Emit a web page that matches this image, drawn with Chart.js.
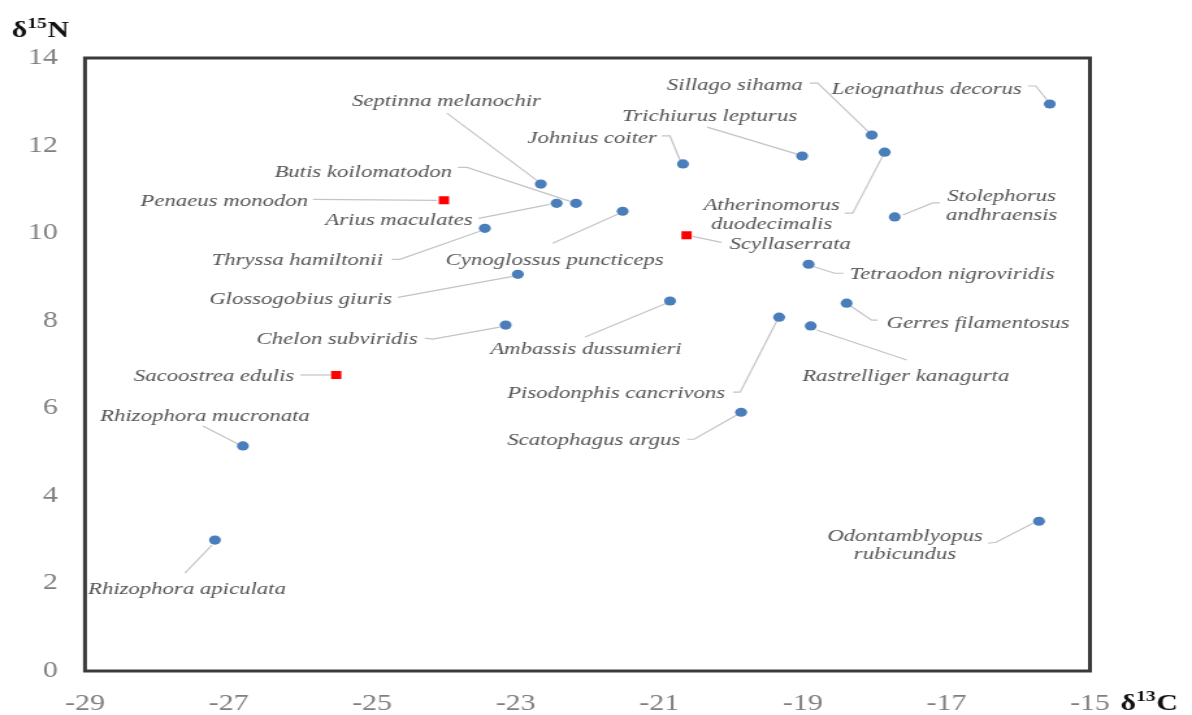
<!DOCTYPE html>
<html>
<head>
<meta charset="utf-8">
<script src="https://cdn.jsdelivr.net/npm/chart.js@4/dist/chart.umd.min.js"></script>
<style>
  html, body { margin: 0; padding: 0; background: #fff; overflow: hidden; }
  #chart { display: block; width: 1192px !important; height: 715px !important; }
</style>
</head>
<body>
<!-- drawn narrow, then stretched sideways like the original figure -->
<canvas id="chart" width="917" height="715" style="width:1192px;height:715px"></canvas>
<script>
// fish and mangrove sources (blue dots)
const speciesNames = [
  'Leiognathus decorus', 'Sillago sihama', 'Atherinomorus duodecimalis', 'Trichiurus lepturus',
  'Johnius coiter', 'Septinna melanochir', 'Arius maculates', 'Butis koilomatodon',
  'Cynoglossus puncticeps', 'Thryssa hamiltonii', 'Stolephorus andhraensis', 'Tetraodon nigroviridis',
  'Glossogobius giuris', 'Ambassis dussumieri', 'Gerres filamentosus', 'Pisodonphis cancrivons',
  'Chelon subviridis', 'Rastrelliger kanagurta', 'Scatophagus argus', 'Rhizophora mucronata',
  'Rhizophora apiculata', 'Odontamblyopus rubicundus'
];
const speciesC = [-15.56, -18.04, -17.86, -19.01, -20.67, -22.65, -22.43, -22.16, -21.51, -23.43, -17.72,
  -18.92, -22.97, -20.85, -18.39, -19.33, -23.14, -18.89, -19.86, -26.80, -27.19, -15.71];
const speciesN = [12.95, 12.24, 11.85, 11.76, 11.58, 11.12, 10.68, 10.68, 10.50, 10.11, 10.37,
  9.29, 9.06, 8.45, 8.40, 8.08, 7.90, 7.88, 5.91, 5.14, 2.99, 3.42];

// shrimp, crab, oyster (red squares)
const shellNames = ['Penaeus monodon', 'Scyllaserrata', 'Sacoostrea edulis'];
const shellC = [-24.0, -20.62, -25.50];
const shellN = [10.75, 9.95, 6.76];

const xTicks = [-29, -27, -25, -23, -21, -19, -17, -15];
const yTicks = [0, 2, 4, 6, 8, 10, 12, 14];

// label placement: offsets in screen px from the point
const labelLayout = {
  'Leiognathus decorus': { align: 'right', dx: -28, dy: -16, leader: [[-22, -18], [-14, -18], [-2, -3]] },
  'Sillago sihama': { align: 'right', dx: -69, dy: -51, leader: [[-62, -52], [-54, -52], [-3, -3]] },
  'Atherinomorus duodecimalis': { align: 'center', dx: -113, dy: 62, lines: ['Atherinomorus', 'duodecimalis'], leader: [[-40, 61], [-32, 61], [-2, 4]] },
  'Trichiurus lepturus': { align: 'right', dx: -5, dy: -41, leader: [[-95, -29], [-5, -2]] },
  'Johnius coiter': { align: 'right', dx: -26, dy: -27, leader: [[-21, -28], [-13, -28], [-3, -4]] },
  'Septinna melanochir': { align: 'right', dx: 0, dy: -84, leader: [[-94, -71], [-3, -3]] },
  'Arius maculates': { align: 'right', dx: -84, dy: 16, leader: [[-78, 15], [-7, 1]] },
  'Butis koilomatodon': { align: 'right', dx: -124, dy: -32, leader: [[-118, -36], [-109, -36], [-6, -2]] },
  'Cynoglossus puncticeps': { align: 'center', dx: -68, dy: 48, leader: [[-70, 32], [-5, 3]] },
  'Thryssa hamiltonii': { align: 'right', dx: -102, dy: 31, leader: [[-93, 31], [-85, 31], [-5, 3]] },
  'Stolephorus andhraensis': { align: 'center', dx: 107, dy: -12, lines: ['Stolephorus', 'andhraensis'], leader: [[45, -14], [38, -14], [8, -2]] },
  'Tetraodon nigroviridis': { align: 'left', dx: 41, dy: 9, leader: [[35, 9], [26, 9], [4, 2]] },
  'Glossogobius giuris': { align: 'right', dx: -126, dy: 24, leader: [[-120, 23], [-5, 2]] },
  'Ambassis dussumieri': { align: 'center', dx: -84, dy: 47, leader: [[-85, 36], [-3, 2]] },
  'Gerres filamentosus': { align: 'left', dx: 40, dy: 19, leader: [[31, 17], [25, 17], [3, 2]] },
  'Pisodonphis cancrivons': { align: 'right', dx: -54, dy: 75, leader: [[-46, 75], [-39, 75], [-2, 3]] },
  'Chelon subviridis': { align: 'right', dx: -88, dy: 13, leader: [[-81, 13], [-73, 14], [-6, 2]] },
  'Rastrelliger kanagurta': { align: 'center', dx: 95, dy: 49, leader: [[96, 34], [6, 4]] },
  'Scatophagus argus': { align: 'right', dx: -61, dy: 27, leader: [[-54, 27], [-47, 27], [-3, 2]] },
  'Rhizophora mucronata': { align: 'center', dx: -38, dy: -31, leader: [[-40, -20], [-5, -2]] },
  'Rhizophora apiculata': { align: 'center', dx: -28, dy: 48, leader: [[-30, 33], [-3, 5]] },
  'Odontamblyopus rubicundus': { align: 'center', dx: -134, dy: 23, lines: ['Odontamblyopus', 'rubicundus'], leader: [[-51, 22], [-43, 21], [-6, 2]] },
  'Penaeus monodon': { align: 'right', dx: -136, dy: 0, leader: [[-131, -1], [-7, 0]] },
  'Scyllaserrata': { align: 'left', dx: 43, dy: 8, leader: [[35, 7], [6, 1]] },
  'Sacoostrea edulis': { align: 'right', dx: -42, dy: 0, leader: [[-36, 0], [-5, 0]] }
};

const S = 1192 / 917; // horizontal stretch of the canvas

function toPoints(xs, ys) {
  return xs.map((x, i) => ({ x: x, y: ys[i] }));
}

// frame, leader lines and species names
const labelPlugin = {
  id: 'speciesLabels',
  beforeDatasetsDraw(chart) {
    const ctx = chart.ctx;
    const a = chart.chartArea;
    ctx.save();
    ctx.strokeStyle = '#3a3a3a';
    ctx.lineWidth = 3;
    ctx.strokeRect(a.left, a.top, a.right - a.left, a.bottom - a.top);

    chart.data.datasets.forEach((ds, i) => {
      const meta = chart.getDatasetMeta(i);
      ds.names.forEach((name, j) => {
        const lay = labelLayout[name];
        const p = meta.data[j];
        if (!lay || !p) return;

        ctx.strokeStyle = '#c4c4c4';
        ctx.lineWidth = 1.2;
        ctx.beginPath();
        lay.leader.forEach(([dx, dy], k) => {
          const x = p.x + dx / S, y = p.y + dy;
          if (k === 0) ctx.moveTo(x, y); else ctx.lineTo(x, y);
        });
        ctx.stroke();

        const lines = lay.lines || [name];
        const lh = 18.5;
        ctx.fillStyle = '#555555';
        ctx.font = 'italic 17.5px "Liberation Serif", serif';
        ctx.textAlign = lay.align;
        ctx.textBaseline = 'middle';
        const y0 = p.y + lay.dy + 1 - (lines.length - 1) * lh / 2;
        lines.forEach((t, k) => ctx.fillText(t, p.x + lay.dx / S, y0 + k * lh));
      });
    });
    ctx.restore();
  },
  afterDraw(chart) {
    const ctx = chart.ctx;
    ctx.save();
    ctx.fillStyle = '#111';
    ctx.textAlign = 'left';
    ctx.textBaseline = 'alphabetic';
    // δ15N and δ13C with raised numbers
    function title(x, y, first, sup, last) {
      ctx.font = 'bold 23px "Liberation Serif", serif';
      ctx.fillText(first, x, y);
      x += ctx.measureText(first).width;
      ctx.font = 'bold 15px "Liberation Serif", serif';
      ctx.fillText(sup, x, y - 9);
      x += ctx.measureText(sup).width + 0.5;
      ctx.font = 'bold 23px "Liberation Serif", serif';
      ctx.fillText(last, x, y);
    }
    title(9, 37, 'δ', '15', 'N');
    title(862, 710, 'δ', '13', 'C');
    ctx.restore();
  }
};

const tickFont = { family: '"Liberation Serif", serif', size: 23 };

new Chart(document.getElementById('chart'), {
  type: 'scatter',
  data: {
    datasets: [
      {
        names: speciesNames,
        data: toPoints(speciesC, speciesN),
        backgroundColor: '#4a7ebb',
        borderWidth: 0,
        pointStyle: 'circle',
        pointRadius: 4.6
      },
      {
        names: shellNames,
        data: toPoints(shellC, shellN),
        backgroundColor: '#ff0000',
        borderWidth: 0,
        pointStyle: 'rect',
        pointRadius: 5.6
      }
    ]
  },
  options: {
    responsive: false,
    devicePixelRatio: 1,
    animation: false,
    layout: { padding: { top: 58, right: 78.5, left: 0, bottom: 0 } },
    plugins: { legend: { display: false }, tooltip: { enabled: false } },
    scales: {
      x: {
        type: 'linear',
        min: -29,
        max: -15,
        afterBuildTicks: s => { s.ticks = xTicks.map(v => ({ value: v })); },
        afterFit: s => { s.height = 44; },
        grid: { display: false, drawTicks: false },
        border: { display: false },
        ticks: { color: '#7f7f7f', font: tickFont, padding: 19, maxRotation: 0 }
      },
      y: {
        type: 'linear',
        min: 0,
        max: 14,
        afterBuildTicks: s => { s.ticks = yTicks.map(v => ({ value: v })); },
        afterFit: s => { s.width = 85 / S; },
        grid: { display: false, drawTicks: false },
        border: { display: false },
        ticks: { color: '#7f7f7f', font: tickFont, padding: 21 }
      }
    }
  },
  plugins: [labelPlugin]
});
</script>
</body>
</html>
